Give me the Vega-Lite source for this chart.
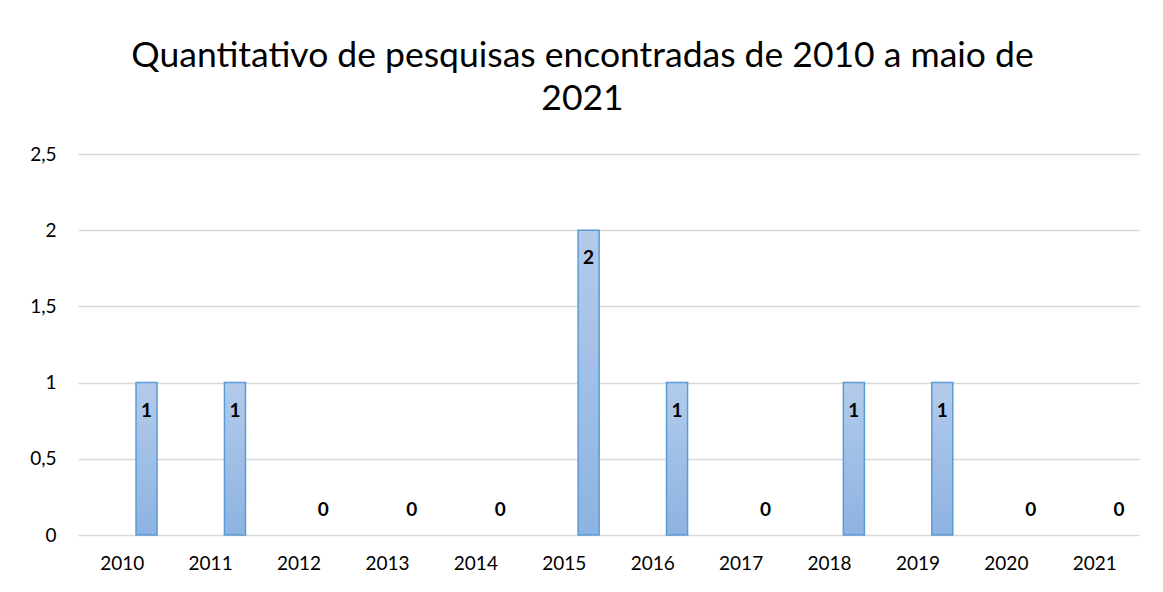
{
  "$schema": "https://vega.github.io/schema/vega-lite/v6.json",
  "autosize": "none",
  "width": 1061,
  "height": 381,
  "padding": {"left": 78, "top": 154, "right": 24, "bottom": 57},
  "background": "white",
  "title": {
    "text": ["Quantitativo de pesquisas encontradas de 2010 a maio de", "2021"],
    "font": "Lato",
    "fontSize": 35.5,
    "fontWeight": "normal",
    "color": "#000000",
    "anchor": "middle",
    "dx": -26,
    "offset": 28,
    "lineHeight": 43
  },
  "config": {
    "view": {"stroke": null},
    "font": "Lato"
  },
  "data": {
    "values": [
      {"ano": "2010", "n": 1, "serie": "s3"},
      {"ano": "2011", "n": 1, "serie": "s3"},
      {"ano": "2012", "n": 0, "serie": "s3"},
      {"ano": "2013", "n": 0, "serie": "s3"},
      {"ano": "2014", "n": 0, "serie": "s3"},
      {"ano": "2015", "n": 2, "serie": "s3"},
      {"ano": "2016", "n": 1, "serie": "s3"},
      {"ano": "2017", "n": 0, "serie": "s3"},
      {"ano": "2018", "n": 1, "serie": "s3"},
      {"ano": "2019", "n": 1, "serie": "s3"},
      {"ano": "2020", "n": 0, "serie": "s3"},
      {"ano": "2021", "n": 0, "serie": "s3"}
    ]
  },
  "encoding": {
    "x": {
      "field": "ano",
      "type": "nominal",
      "sort": ["2010", "2011", "2012", "2013", "2014", "2015", "2016", "2017", "2018", "2019", "2020", "2021"],
      "scale": {"domain": ["2010", "2011", "2012", "2013", "2014", "2015", "2016", "2017", "2018", "2019", "2020", "2021"], "paddingInner": 0, "paddingOuter": 0},
      "axis": {
        "title": null,
        "labelAngle": 0,
        "ticks": false,
        "domain": false,
        "labelPadding": 19,
        "labelFontSize": 19,
        "labelColor": "#000000",
        "labelFont": "Lato"
      }
    },
    "xOffset": {
      "field": "serie",
      "type": "nominal",
      "scale": {"domain": ["s1", "s2", "s3"], "paddingInner": 0, "paddingOuter": 0.6, "align": 0.63}
    },
    "y": {
      "field": "n",
      "type": "quantitative",
      "scale": {"domain": [0, 2.5], "nice": false},
      "axis": {
        "title": null,
        "values": [0, 0.5, 1, 1.5, 2, 2.5],
        "format": "~g",
        "labelExpr": "replace(datum.label, '.', ',')",
        "ticks": false,
        "domain": false,
        "gridColor": "#d9d9d9",
        "gridWidth": 1.5,
        "labelPadding": 22,
        "labelFontSize": 19,
        "labelColor": "#000000",
        "labelFont": "Lato"
      }
    }
  },
  "layer": [
    {
      "transform": [{"filter": "datum.n > 0"}],
      "mark": {
        "type": "bar",
        "stroke": "#5b9bd5",
        "strokeWidth": 1.5,
        "color": {
          "gradient": "linear",
          "x1": 0, "y1": 0, "x2": 0, "y2": 1,
          "stops": [
            {"offset": 0, "color": "#b3cbea"},
            {"offset": 1, "color": "#8db3e2"}
          ]
        }
      }
    },
    {
      "transform": [{"filter": "datum.n > 0"}],
      "mark": {"type": "text", "baseline": "middle", "dy": 28, "fontWeight": "bold", "fontSize": 19, "color": "#000000"},
      "encoding": {"text": {"field": "n", "type": "quantitative"}}
    },
    {
      "transform": [{"filter": "datum.n == 0"}],
      "mark": {"type": "text", "baseline": "middle", "dy": -25, "fontWeight": "bold", "fontSize": 19, "color": "#000000"},
      "encoding": {"text": {"field": "n", "type": "quantitative"}}
    }
  ]
}
